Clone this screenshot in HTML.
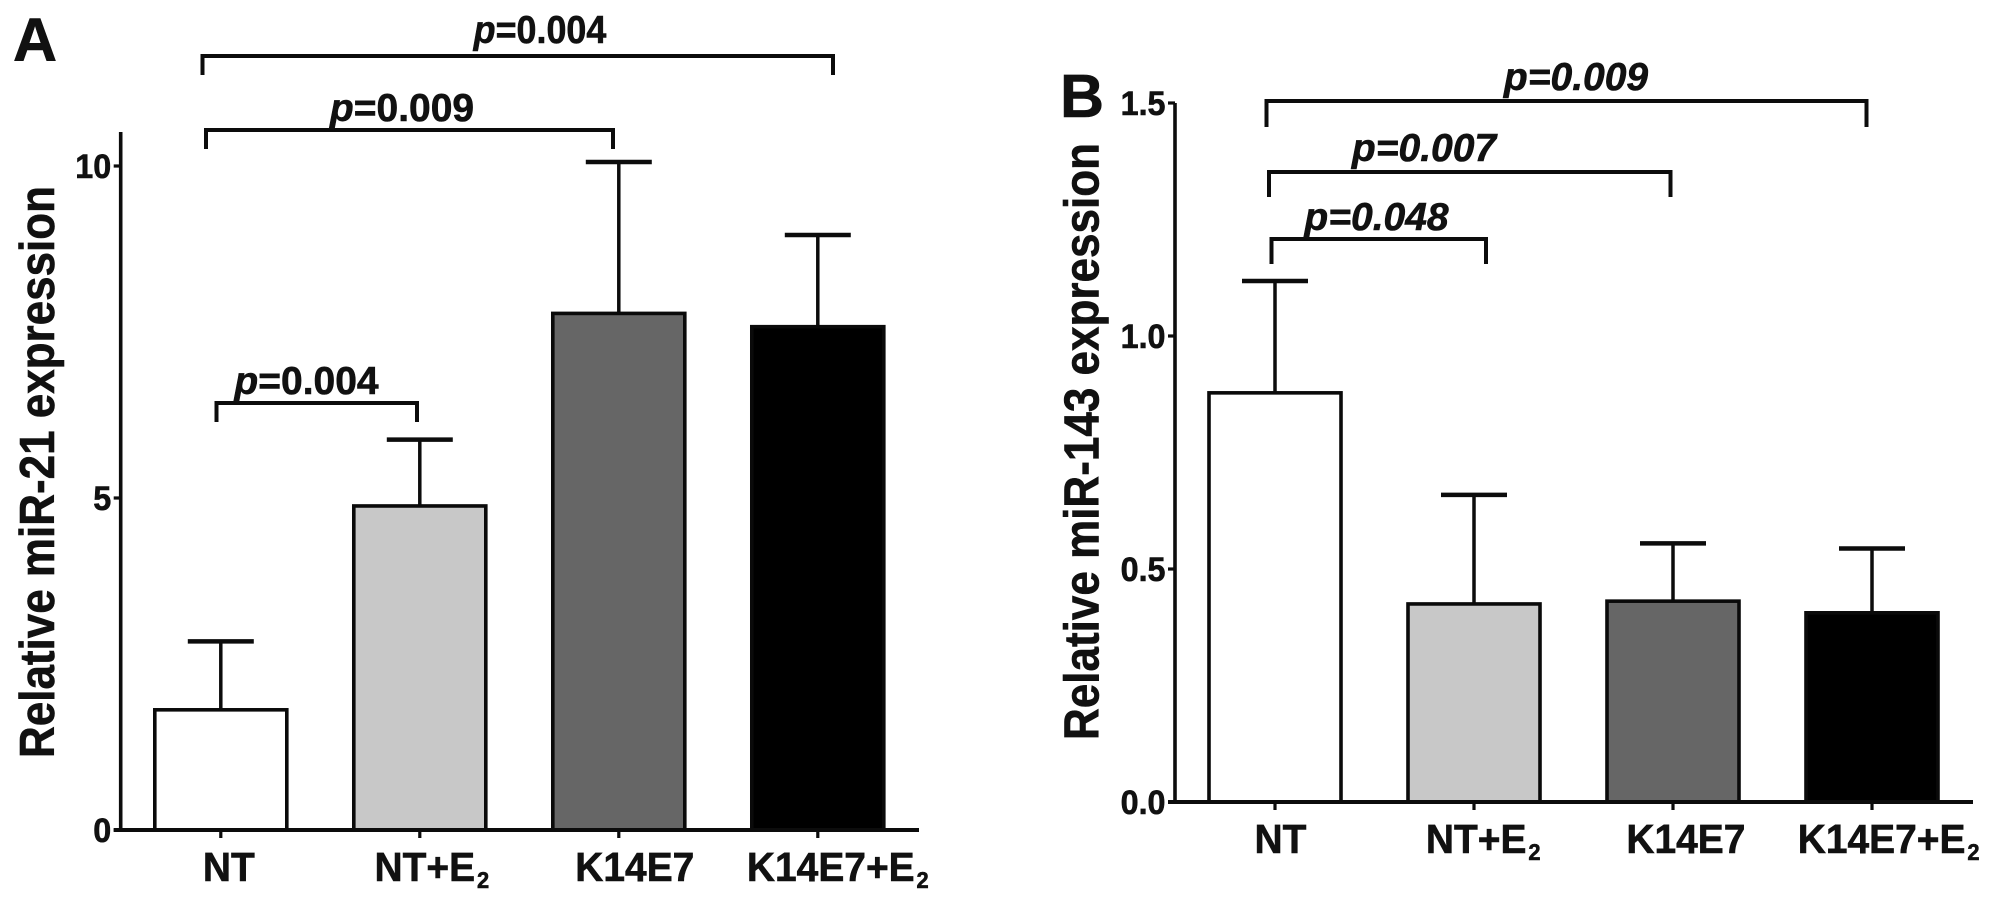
<!DOCTYPE html>
<html lang="en">
<head>
<meta charset="utf-8">
<title>Relative miR-21 and miR-143 expression</title>
<style>
  html, body { margin: 0; padding: 0; background: #fff; }
  body { width: 2008px; height: 907px; overflow: hidden; }
  svg { display: block; }
  text { font-family: "Liberation Sans", Arial, sans-serif; font-weight: bold; fill: #111; stroke: #111; stroke-width: 0.6; }
  .anno { font-size: 39px; text-anchor: middle; }
  .br { fill: none; stroke: #0c0c0c; stroke-width: 4; }
</style>
</head>
<body>
<svg id="figure" xmlns="http://www.w3.org/2000/svg" width="2008" height="907" viewBox="0 0 2008 907">
  <rect x="0" y="0" width="2008" height="907" fill="#fff"/>
  <g id="panelA"></g>
  <g id="panelB"></g>

  <text transform="translate(35,61)" text-anchor="middle" font-size="61">A</text>
  <text transform="translate(1082,117)" text-anchor="middle" font-size="61">B</text>

  <path class="br" d="M202.5,75V56H833V75"/>
  <path class="br" d="M206,149V130H613V149"/>
  <path class="br" d="M216.5,422V403H417V422"/>
  <text class="anno" transform="translate(540,43) scale(.92,1)"><tspan font-style="italic">p</tspan>=0.004</text>
  <text class="anno" transform="translate(402,121)"><tspan font-style="italic">p</tspan>=0.009</text>
  <text class="anno" transform="translate(306.5,394)"><tspan font-style="italic">p</tspan>=0.004</text>

  <path class="br" d="M1266.5,127V101H1866.5V127"/>
  <path class="br" d="M1269,197V172H1670.5V197"/>
  <path class="br" d="M1271.5,264V239H1486V264"/>
  <text class="anno" font-style="italic" transform="translate(1576,90)">p=0.009</text>
  <text class="anno" font-style="italic" transform="translate(1424,161)">p=0.007</text>
  <text class="anno" font-style="italic" transform="translate(1376.5,230)">p=0.048</text>
</svg>

<script>
const categories = ['NT', 'NT+E2', 'K14E7', 'K14E7+E2'];
const barFills = ['#ffffff', '#c8c8c8', '#666666', '#000000'];

const mir21Means = [1.81, 4.88, 7.78, 7.58];
const mir21ErrorTops = [2.84, 5.88, 10.06, 8.96];
const mir21TickValues = [0, 5, 10];
const mir21TickLabels = ['0', '5', '10'];

const mir143Means = [0.878, 0.425, 0.431, 0.406];
const mir143ErrorTops = [1.118, 0.659, 0.555, 0.544];
const mir143TickValues = [0, 0.5, 1.0, 1.5];
const mir143TickLabels = ['0.0', '0.5', '1.0', '1.5'];

const SVGNS = 'http://www.w3.org/2000/svg';

function mk(tag, attrs, parent) {
  const el = document.createElementNS(SVGNS, tag);
  for (const k in attrs) el.setAttribute(k, attrs[k]);
  parent.appendChild(el);
  return el;
}

function drawPanel(root, cfg, means, tops, tickValues, tickLabels, key) {
  const xScale = i => cfg.x0 + i * cfg.step;
  const yScale = v => cfg.base - v * cfg.unit;
  const halfBar = 66;
  const halfCap = 33;

  categories.forEach((cat, i) => {
    const cx = xScale(i);
    const top = yScale(means[i]);
    const tip = yScale(tops[i]);

    const whisker = mk('line', { x1: cx, x2: cx, y1: tip, y2: top, stroke: '#0c0c0c', 'stroke-width': 3.5 }, root);
    
    

    const cap = mk('line', { x1: cx - halfCap, x2: cx + halfCap, y1: tip, y2: tip, stroke: '#0c0c0c', 'stroke-width': 4.5 }, root);
    
    

    const bar = mk('rect', { x: cx - halfBar, y: top, width: halfBar * 2, height: cfg.base - top, fill: barFills[i], stroke: '#0a0a0a', 'stroke-width': 3.6 }, root);
    
    

    const tick = mk('line', { x1: cx, x2: cx, y1: cfg.base, y2: cfg.base + 8, stroke: '#0c0c0c', 'stroke-width': 3.2 }, root);
    
    

    const label = mk('text', {
      transform: 'translate(' + (cx + cfg.labelShift + cfg.labelDrift * i) + ',' + (cfg.base + cfg.labelDrop) + ') scale(.95,1)',
      'text-anchor': 'middle',
      'font-size': 41
    }, root);
    
    
    const parts = cat.match(/^(.*)E2$/);
    if (parts) {
      const main = mk('tspan', {}, label);
      main.textContent = parts[1] + 'E';
      const sub = mk('tspan', { 'font-size': 23, dy: 7, dx: 2 }, label);
      sub.textContent = '2';
    } else {
      label.textContent = cat;
    }
  });

  tickValues.forEach((v, i) => {
    const y = yScale(v);
    const tick = mk('line', { x1: cfg.axisX - 7, x2: cfg.axisX, y1: y, y2: y, stroke: '#0c0c0c', 'stroke-width': 3.2 }, root);
    
    

    const label = mk('text', {
      transform: 'translate(' + (cfg.axisX - 9.5) + ',' + (y + 12) + ') scale(.95,1)',
      'text-anchor': 'end',
      'font-size': 34
    }, root);
    
    
    label.textContent = tickLabels[i];
  });

  const yAxis = mk('line', { x1: cfg.axisX, x2: cfg.axisX, y1: cfg.axisTop, y2: cfg.base + 2, stroke: '#0c0c0c', 'stroke-width': 3.6 }, root);
  
  

  const xAxis = mk('line', { x1: cfg.axisX - 7, x2: cfg.axisEnd, y1: cfg.base, y2: cfg.base, stroke: '#0c0c0c', 'stroke-width': 4 }, root);
  
  

  const title = mk('text', {
    transform: 'translate(' + cfg.titleX + ',' + cfg.titleY + ') rotate(-90)',
    'font-size': 49,
    textLength: cfg.titleLen,
    lengthAdjust: 'spacingAndGlyphs'
  }, root);
  
  
  title.textContent = cfg.title;
}

drawPanel(document.getElementById('panelA'), {
  x0: 220.8, step: 199, base: 830, unit: 66.4, axisX: 120.7, axisTop: 132, axisEnd: 919,
  labelShift: 8, labelDrift: 4, labelDrop: 51,
  titleX: 54, titleY: 758, titleLen: 572, title: 'Relative miR-21 expression'
}, mir21Means, mir21ErrorTops, mir21TickValues, mir21TickLabels, 'mir21');

drawPanel(document.getElementById('panelB'), {
  x0: 1275, step: 199, base: 802, unit: 466, axisX: 1175, axisTop: 103, axisEnd: 1973,
  labelShift: 5.5, labelDrift: 3.7, labelDrop: 51,
  titleX: 1098.5, titleY: 740, titleLen: 597, title: 'Relative miR-143 expression'
}, mir143Means, mir143ErrorTops, mir143TickValues, mir143TickLabels, 'mir143');
</script>
</body>
</html>
